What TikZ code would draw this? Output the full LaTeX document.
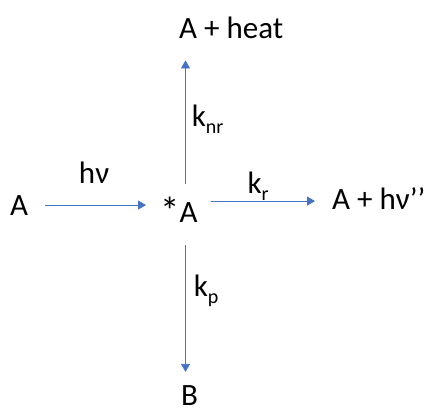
\documentclass[tikz,border=0pt]{standalone}
\usepackage{fontspec}
\usepackage{graphicx}
\setmainfont{Carlito}
\usetikzlibrary{positioning,arrows.meta}
\definecolor{rateblue}{RGB}{68,114,196}
\newcommand{\lowidx}[1]{\raisebox{-7pt}{\fontsize{20}{20}\selectfont #1}}

\begin{document}
\begin{tikzpicture}[x=1pt,y=-1pt,
  spec/.style={inner sep=0pt,text=black,font=\fontsize{31}{37}\selectfont},
  rarr/.style={-{Triangle[length=8pt,width=9pt]},rateblue,line width=0.8pt},
  rlab/.style={inner sep=0pt,text=black,font=\fontsize{31}{37}\selectfont}
]
\useasboundingbox (0,0) rectangle (427,410);
\node[spec,anchor=base] (a0) at (19,215) {A};
\node[spec,anchor=base west] (ax) at (160,222) {\raisebox{-2pt}{\scalebox{1.25}{*}}A};
\node[spec,anchor=base west] (heat) at (179,38) {A + heat};
\node[spec,anchor=base west] (ahv) at (332,209) {A + hν’’};
\node[spec,anchor=base] (bb) at (189.5,405) {B};
\draw[rarr,shorten <=17pt,shorten >=14pt] (a0.east) -- node[rlab,above=21pt]{hν} (a0.east -| ax.west);
\draw[rarr,shorten <=13pt,shorten >=17pt] ([yshift=-3pt]ahv.west -| ax.east) -- node[rlab,above=0pt,pos=0.45]{k\lowidx{r}} ([yshift=-3pt]ahv.west);
\draw[rarr,shorten <=38pt,shorten >=22pt] ([xshift=25.5pt]ax.base west) -- node[rlab,right=6pt,pos=0.56]{k\lowidx{nr}} ([xshift=25.5pt]ax.base west |- heat.south);
\draw[rarr,shorten <=23pt,shorten >=13pt] ([xshift=25.5pt]ax.base west) -- node[rlab,right=8pt,pos=0.42]{k\lowidx{p}} ([xshift=25.5pt]ax.base west |- bb.north);
\end{tikzpicture}
\end{document}
